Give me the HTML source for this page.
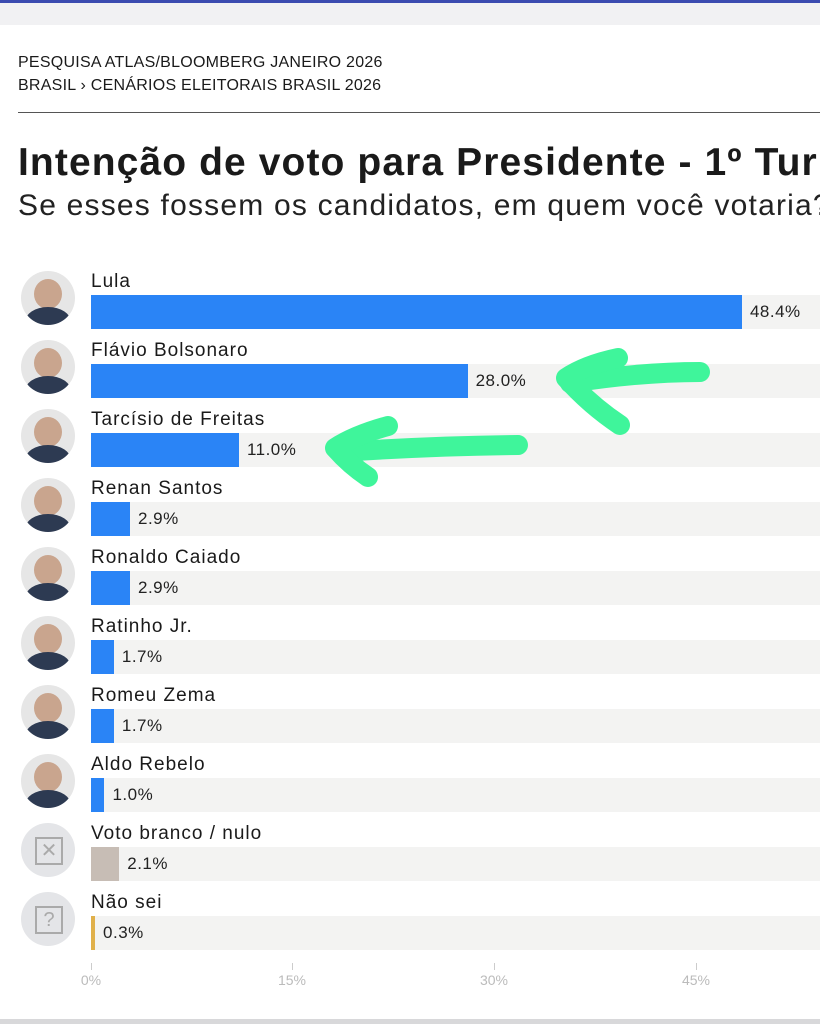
<!DOCTYPE html>
<html><head><meta charset="utf-8"><style>
html,body{margin:0;width:820px;height:1024px;overflow:hidden}
body{background:#fff;position:relative;font-family:"Liberation Sans",sans-serif;color:#1a1a1a}
.a{position:absolute}
.clip{position:absolute;left:0;top:0;width:820px;height:1024px;overflow:hidden}
.track{position:absolute;left:91px;width:729px;height:34px;background:#f3f3f2}
.bar{position:absolute;left:0;top:0;height:34px;background:#2a84f6}
.lab{position:absolute;left:91px;font-size:19px;letter-spacing:1px;color:#1a1a1a;white-space:nowrap}
.val{position:absolute;font-size:17px;letter-spacing:0.5px;top:7px;color:#222}
.av{position:absolute;left:21px;width:54px;height:54px;border-radius:50%;background:#e6e6e6;overflow:hidden}
.tick{position:absolute;top:963px;width:1px;height:7px;background:#ccc}
.tl{position:absolute;top:972px;font-size:14px;color:#bbb;transform:translateX(-50%)}
</style></head><body>
<div class="clip">
<div class="a" style="left:0;top:0;width:820px;height:3px;background:#3b4bb0"></div>
<div class="a" style="left:0;top:3px;width:820px;height:22px;background:#f1f1f3"></div>
<div class="a" style="left:18px;top:51px;font-size:16px;letter-spacing:0.25px;line-height:23px;white-space:nowrap">PESQUISA ATLAS/BLOOMBERG JANEIRO 2026<br>BRASIL › CENÁRIOS ELEITORAIS BRASIL 2026</div>
<div class="a" style="left:18px;top:112px;width:802px;height:1px;background:#555"></div>
<div class="a" style="left:18px;top:141px;width:802px;overflow:hidden;font-size:39px;letter-spacing:1.1px;font-weight:bold;white-space:nowrap">Intenção de voto para Presidente - 1º Turno</div>
<div class="a" style="left:18px;top:189px;width:802px;overflow:hidden;font-size:30px;letter-spacing:1.2px;white-space:nowrap;color:#222">Se esses fossem os candidatos, em quem você votaria?</div>

<div id="rows"></div>
<script>
var d=[["Lula",48.4,"#2a84f6"],["Flávio Bolsonaro",28.0,"#2a84f6"],["Tarcísio de Freitas",11.0,"#2a84f6"],["Renan Santos",2.9,"#2a84f6"],["Ronaldo Caiado",2.9,"#2a84f6"],["Ratinho Jr.",1.7,"#2a84f6"],["Romeu Zema",1.7,"#2a84f6"],["Aldo Rebelo",1.0,"#2a84f6"],["Voto branco / nulo",2.1,"#c7bdb5"],["Não sei",0.3,"#e0b04a"]];
var h="";
d.forEach(function(r,i){var y=295+i*69;var w=Math.max(r[1]*13.45,3);
h+='<div class="lab" style="top:'+(y-24)+'px">'+r[0]+'</div>';
h+='<div class="track" style="top:'+y+'px"><div class="bar" style="width:'+w+'px;background:'+r[2]+'"></div><div class="val" style="left:'+(w+8)+'px">'+r[1].toFixed(1)+'%</div></div>';
if(i<8){h+='<div class="av" style="top:'+(y-24)+'px"><div style="position:absolute;left:13px;top:8px;width:28px;height:30px;border-radius:50%;background:#c9a58e"></div><div style="position:absolute;left:4px;top:36px;width:46px;height:30px;border-radius:50% 50% 0 0;background:#2d3a52"></div></div>';}
else{h+='<div class="av" style="top:'+(y-24)+'px;background:#e4e5e8"><div style="position:absolute;left:14px;top:14px;width:24px;height:24px;border:2px solid #aaa;color:#aaa;font-size:20px;text-align:center;line-height:24px">'+(i==8?'✕':'?')+'</div></div>';}
});
[[0,91],[15,292],[30,494],[45,696]].forEach(function(t){h+='<div class="tick" style="left:'+t[1]+'px"></div><div class="tl" style="left:'+t[1]+'px">'+t[0]+'%</div>';});
document.getElementById("rows").innerHTML=h;
</script>
<svg class="a" style="left:0;top:0" width="820" height="1024">
<g fill="none" stroke="#3ff59b" stroke-width="20" stroke-linecap="round" stroke-linejoin="round">
<path d="M700 372 Q640 372 570 383"/>
<path d="M618 358 Q585 365 566 378 Q590 405 620 425"/>
<path d="M518 445 Q430 446 340 452"/>
<path d="M388 426 Q355 435 335 448 Q350 465 368 477"/>
</g></svg>
<div class="a" style="left:0;top:1019px;width:820px;height:5px;background:#d8d8da"></div>
</div>
</body></html>
